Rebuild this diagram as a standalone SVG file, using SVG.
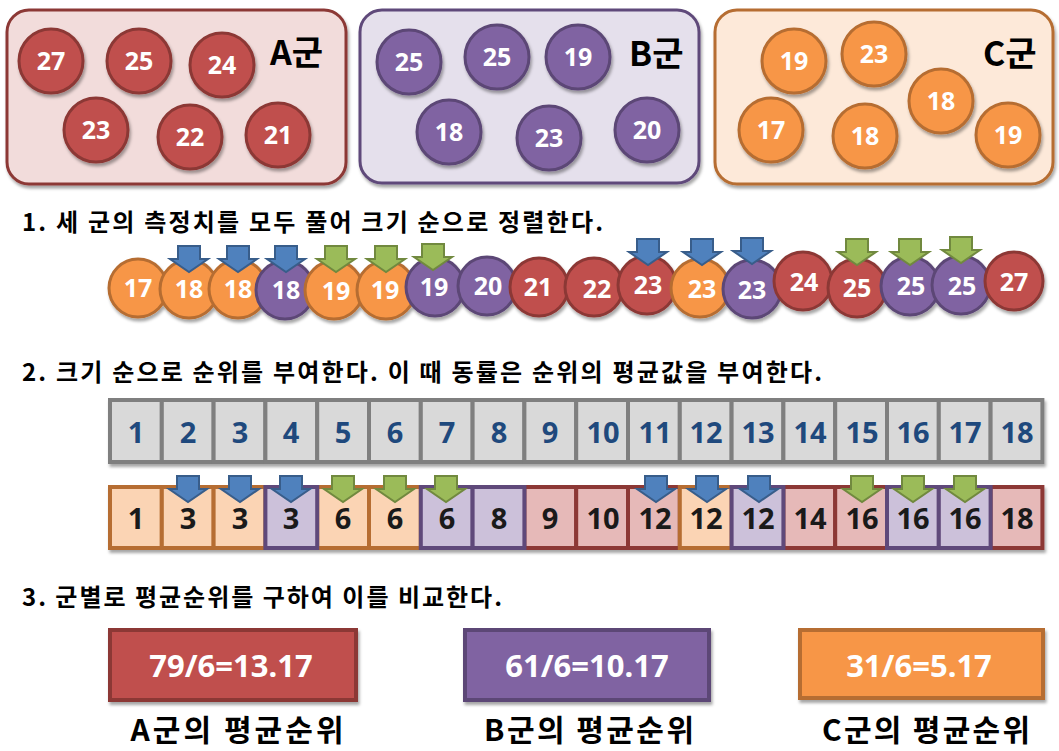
<svg xmlns="http://www.w3.org/2000/svg" xmlns:xlink="http://www.w3.org/1999/xlink" width="1059" height="751" viewBox="0 0 1059 751">
<defs>
<filter id="sh" x="-20%" y="-20%" width="140%" height="150%">
<feDropShadow dx="1.5" dy="3" stdDeviation="1.8" flood-color="#000" flood-opacity="0.35"/>
</filter>
<path id="arr" d="M -11 -26 H 11 V -13 H 19 L 0 0 L -19 -13 H -11 Z" stroke-width="2" stroke-linejoin="miter"/>
<style>
.t{font-family:"Noto Sans","Noto Sans CJK KR",sans-serif;font-weight:bold}
.k{font-family:"Noto Sans CJK KR","Noto Sans",sans-serif;font-weight:bold;fill:#000}
.cn{font-size:25px;fill:#fff;text-anchor:middle}
.sn{font-size:25px;fill:#fff;text-anchor:middle}
.gl{font-size:34px}
.A{fill:#c0504d;stroke:#8c3836;stroke-width:3}
.B{fill:#8064a2;stroke:#5c4776;stroke-width:3}
.C{fill:#f79646;stroke:#b66d31;stroke-width:3}
.ba{fill:#f2dcdb;stroke:#8c3836;stroke-width:3}
.bb{fill:#e5e0ec;stroke:#5f497a;stroke-width:3}
.bc{fill:#fde9d9;stroke:#b66d31;stroke-width:3}
.g{fill:#d9d9d9;stroke:#7f7f7f;stroke-width:4}
.ra{fill:#e6b9b8;stroke:#8c3836;stroke-width:4}
.rb{fill:#ccc1da;stroke:#5f497a;stroke-width:4}
.rc{fill:#fbd4b4;stroke:#b66d31;stroke-width:4}
.rn{font-size:29px;text-anchor:middle;fill:#1f497d}
.rk{font-size:29px;text-anchor:middle;fill:#1a1a1a}
.blue{fill:#4f81bd;stroke:#385d8a}
.green{fill:#9bbb59;stroke:#71893f}
.bx{stroke-width:4}
.bt{font-size:31px;fill:#fff;text-anchor:middle}
.lab{font-size:30px;text-anchor:middle}
.step{font-size:24px}
</style>
</defs>
<rect width="1059" height="751" fill="#fff"/>

<!-- Group A -->
<g id="groupA">
<rect class="ba" x="7" y="10" width="339" height="174" rx="22" filter="url(#sh)"/>
<g filter="url(#sh)">
<circle class="A" cx="51" cy="61" r="32"/><circle class="A" cx="139" cy="61" r="32"/><circle class="A" cx="222" cy="65" r="32"/>
<circle class="A" cx="96" cy="130" r="32"/><circle class="A" cx="190" cy="137" r="32"/><circle class="A" cx="278" cy="135" r="32"/>
</g>
<g class="t cn">
<text x="51" y="70">27</text><text x="139" y="70">25</text><text x="222" y="74">24</text>
<text x="96" y="139">23</text><text x="190" y="146">22</text><text x="278" y="144">21</text>
</g>
<text class="k gl" x="270" y="65">A군</text>
</g>

<!-- Group B -->
<g id="groupB">
<rect class="bb" x="360" y="10" width="339" height="173" rx="22" filter="url(#sh)"/>
<g filter="url(#sh)">
<circle class="B" cx="409" cy="62" r="32"/><circle class="B" cx="497" cy="57" r="32"/><circle class="B" cx="578" cy="57" r="32"/>
<circle class="B" cx="449" cy="132" r="32"/><circle class="B" cx="549" cy="138" r="32"/><circle class="B" cx="647" cy="130" r="32"/>
</g>
<g class="t cn">
<text x="409" y="71">25</text><text x="497" y="66">25</text><text x="578" y="66">19</text>
<text x="449" y="141">18</text><text x="549" y="147">23</text><text x="647" y="139">20</text>
</g>
<text class="k gl" x="629" y="66">B군</text>
</g>

<!-- Group C -->
<g id="groupC">
<rect class="bc" x="715" y="10" width="338" height="174" rx="22" filter="url(#sh)"/>
<g filter="url(#sh)">
<circle class="C" cx="794" cy="61" r="32"/><circle class="C" cx="874" cy="54" r="32"/><circle class="C" cx="941" cy="101" r="32"/>
<circle class="C" cx="771" cy="130" r="32"/><circle class="C" cx="865" cy="136" r="32"/><circle class="C" cx="1008" cy="135" r="32"/>
</g>
<g class="t cn">
<text x="794" y="70">19</text><text x="874" y="63">23</text><text x="941" y="110">18</text>
<text x="771" y="139">17</text><text x="865" y="145">18</text><text x="1008" y="144">19</text>
</g>
<text class="k gl" x="983" y="66">C군</text>
</g>

<!-- Step 1 -->
<text id="step1" class="k step" x="22" y="231" textLength="581" lengthAdjust="spacing">1. 세 군의 측정치를 모두 풀어 크기 순으로 정렬한다.</text>

<g id="sorted" filter="url(#sh)">
<circle class="C" cx="138" cy="288" r="29"/>
<circle class="C" cx="189" cy="289" r="29"/>
<circle class="C" cx="238" cy="289" r="29"/>
<circle class="B" cx="285" cy="290" r="29"/>
<circle class="C" cx="334" cy="290" r="29"/>
<circle class="C" cx="386" cy="290" r="29"/>
<circle class="B" cx="435" cy="287" r="29"/>
<circle class="B" cx="487" cy="286" r="29"/>
<circle class="A" cx="539" cy="287" r="29"/>
<circle class="A" cx="594" cy="287" r="29"/>
<circle class="A" cx="647" cy="285" r="29"/>
<circle class="C" cx="700" cy="288" r="29"/>
<circle class="B" cx="752" cy="289" r="29"/>
<circle class="A" cx="803" cy="281" r="29"/>
<circle class="A" cx="857" cy="288" r="29"/>
<circle class="B" cx="910" cy="286" r="29"/>
<circle class="B" cx="961" cy="285" r="29"/>
<circle class="A" cx="1014" cy="281" r="29"/>
</g>
<g id="sortedLabels" class="t sn">
<text x="138" y="297">17</text><text x="189" y="298">18</text><text x="238" y="298">18</text><text x="286" y="299">18</text>
<text x="336" y="300">19</text><text x="385" y="299">19</text><text x="434" y="296">19</text><text x="488" y="295">20</text>
<text x="538" y="296">21</text><text x="597" y="298">22</text><text x="648" y="294">23</text><text x="702" y="298">23</text>
<text x="752" y="299">23</text><text x="804" y="291">24</text><text x="857" y="297">25</text><text x="911" y="295">25</text>
<text x="962" y="295">25</text><text x="1014" y="291">27</text>
</g>

<!-- Step 2 -->
<text id="step2" class="k step" x="22" y="381" textLength="800" lengthAdjust="spacing">2. 크기 순으로 순위를 부여한다. 이 때 동률은 순위의 평균값을 부여한다.</text>

<g id="rankRow" filter="url(#sh)">
<rect class="g" x="110" y="400" width="51.8" height="62"/>
<rect class="g" x="161.8" y="400" width="51.8" height="62"/>
<rect class="g" x="213.6" y="400" width="51.8" height="62"/>
<rect class="g" x="265.4" y="400" width="51.8" height="62"/>
<rect class="g" x="317.2" y="400" width="51.8" height="62"/>
<rect class="g" x="369" y="400" width="51.8" height="62"/>
<rect class="g" x="420.8" y="400" width="51.8" height="62"/>
<rect class="g" x="472.6" y="400" width="51.8" height="62"/>
<rect class="g" x="524.4" y="400" width="51.8" height="62"/>
<rect class="g" x="576.2" y="400" width="51.8" height="62"/>
<rect class="g" x="628" y="400" width="51.8" height="62"/>
<rect class="g" x="679.8" y="400" width="51.8" height="62"/>
<rect class="g" x="731.6" y="400" width="51.8" height="62"/>
<rect class="g" x="783.4" y="400" width="51.8" height="62"/>
<rect class="g" x="835.2" y="400" width="51.8" height="62"/>
<rect class="g" x="887" y="400" width="51.8" height="62"/>
<rect class="g" x="938.8" y="400" width="51.8" height="62"/>
<rect class="g" x="990.6" y="400" width="51.8" height="62"/>
</g>
<g id="rankNums" class="t rn">
<text x="136" y="443">1</text><text x="188" y="443">2</text><text x="240" y="443">3</text><text x="291" y="443">4</text>
<text x="343" y="443">5</text><text x="395" y="443">6</text><text x="447" y="443">7</text><text x="499" y="443">8</text>
<text x="550" y="443">9</text><text x="603" y="443">10</text><text x="655" y="443">11</text><text x="706" y="443">12</text>
<text x="758" y="443">13</text><text x="810" y="443">14</text><text x="862" y="443">15</text><text x="913" y="443">16</text>
<text x="965" y="443">17</text><text x="1017" y="443">18</text>
</g>

<g id="tiedRow" filter="url(#sh)">
<rect class="rc" x="110" y="487" width="51.8" height="61"/>
<rect class="rc" x="161.8" y="487" width="51.8" height="61"/>
<rect class="rc" x="213.6" y="487" width="51.8" height="61"/>
<rect class="rc" x="317.2" y="487" width="51.8" height="61"/>
<rect class="rc" x="369" y="487" width="51.8" height="61"/>
<rect class="ra" x="524.4" y="487" width="51.8" height="61"/>
<rect class="ra" x="576.2" y="487" width="51.8" height="61"/>
<rect class="ra" x="628" y="487" width="51.8" height="61"/>
<rect class="ra" x="783.4" y="487" width="51.8" height="61"/>
<rect class="ra" x="835.2" y="487" width="51.8" height="61"/>
<rect class="ra" x="990.6" y="487" width="51.8" height="61"/>
<rect class="rb" x="265.4" y="487" width="51.8" height="61"/>
<rect class="rb" x="420.8" y="487" width="51.8" height="61"/>
<rect class="rb" x="472.6" y="487" width="51.8" height="61"/>
<rect class="rc" x="679.8" y="487" width="51.8" height="61"/>
<rect class="rb" x="731.6" y="487" width="51.8" height="61"/>
<rect class="rb" x="887" y="487" width="51.8" height="61"/>
<rect class="rb" x="938.8" y="487" width="51.8" height="61"/>
</g>
<g id="tiedNums" class="t rk">
<text x="136" y="529">1</text><text x="188" y="529">3</text><text x="240" y="529">3</text><text x="291" y="529">3</text>
<text x="343" y="529">6</text><text x="395" y="529">6</text><text x="447" y="529">6</text><text x="499" y="529">8</text>
<text x="550" y="529">9</text><text x="603" y="529">10</text><text x="655" y="529">12</text><text x="706" y="529">12</text>
<text x="758" y="529">12</text><text x="810" y="529">14</text><text x="862" y="529">16</text><text x="913" y="529">16</text>
<text x="965" y="529">16</text><text x="1017" y="529">18</text>
</g>

<!-- Indicator arrows -->
<g id="connectors">
<use href="#arr" class="blue" x="189" y="272"/>
<use href="#arr" class="blue" x="238" y="272"/>
<use href="#arr" class="blue" x="286" y="272"/>
<use href="#arr" class="green" x="336" y="272"/>
<use href="#arr" class="green" x="386" y="272"/>
<use href="#arr" class="green" x="433" y="270"/>
<use href="#arr" class="blue" x="648" y="265"/>
<use href="#arr" class="blue" x="702" y="265"/>
<use href="#arr" class="blue" x="752" y="264"/>
<use href="#arr" class="green" x="857" y="265"/>
<use href="#arr" class="green" x="910" y="265"/>
<use href="#arr" class="green" x="961" y="263"/>
<use href="#arr" class="blue" x="188" y="502"/>
<use href="#arr" class="blue" x="240" y="502"/>
<use href="#arr" class="blue" x="291" y="502"/>
<use href="#arr" class="green" x="343" y="502"/>
<use href="#arr" class="green" x="395" y="502"/>
<use href="#arr" class="green" x="446" y="502"/>
<use href="#arr" class="blue" x="656" y="502"/>
<use href="#arr" class="blue" x="707" y="502"/>
<use href="#arr" class="blue" x="759" y="502"/>
<use href="#arr" class="green" x="862" y="502"/>
<use href="#arr" class="green" x="913" y="502"/>
<use href="#arr" class="green" x="965" y="502"/>
</g>

<!-- Step 3 -->
<text id="step3" class="k step" x="22" y="606" textLength="480" lengthAdjust="spacing">3. 군별로 평균순위를 구하여 이를 비교한다.</text>

<g id="resultA">
<rect class="A bx" x="110" y="630" width="246" height="70" filter="url(#sh)"/>
<text class="t bt" x="231" y="677">79/6=13.17</text>
<text class="k lab" x="237" y="741" textLength="213" lengthAdjust="spacing">A군의 평균순위</text>
</g>
<g id="resultB">
<rect class="B bx" x="465" y="630" width="244" height="70" filter="url(#sh)"/>
<text class="t bt" x="587" y="677">61/6=10.17</text>
<text class="k lab" x="589" y="741" textLength="210" lengthAdjust="spacing">B군의 평균순위</text>
</g>
<g id="resultC">
<rect class="C bx" x="800" y="630" width="243" height="68" filter="url(#sh)"/>
<text class="t bt" x="919" y="677">31/6=5.17</text>
<text class="k lab" x="926" y="741" textLength="208" lengthAdjust="spacing">C군의 평균순위</text>
</g>
</svg>
